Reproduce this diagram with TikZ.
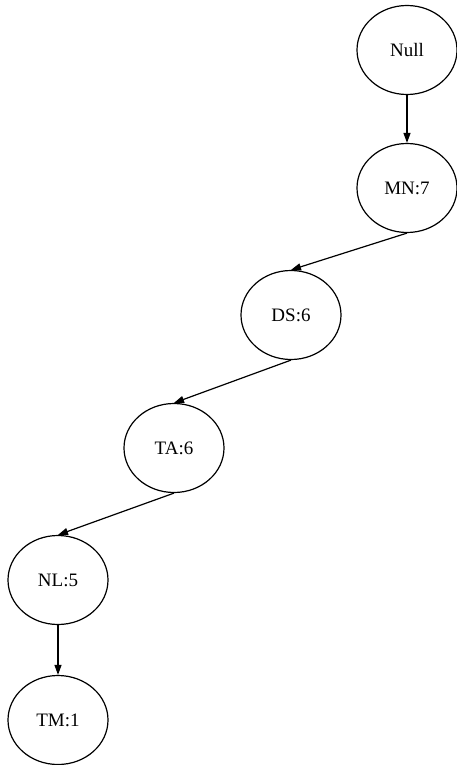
\documentclass[tikz,border=0pt]{standalone}
\usepackage{fontspec}
\setmainfont{Liberation Serif}
\usetikzlibrary{shapes.geometric,arrows.meta}

\begin{document}
\begin{tikzpicture}[x=1pt, y=-1pt,
    no/.style={
        ellipse, minimum width=100pt, minimum height=89pt, inner sep=0pt,
        draw, line width=1.2pt,
        font=\fontsize{19}{22}\selectfont
    },
    seta/.style={-{Triangle[length=10pt,width=7pt]}, line width=1.2pt}]
    \useasboundingbox (0,0) rectangle (457,765);

    \node [no] (null) at (407, 50) {Null};
    \node [no] (mn)   at (407,188) {MN:7};
    \node [no] (ds)   at (291,315) {DS:6};
    \node [no] (ta)   at (174,448) {TA:6};
    \node [no] (nl)   at (58, 580) {NL:5};
    \node [no] (tm)   at (58, 720) {TM:1};

    \draw [seta] (null.south) -- (mn.north);
    \draw [seta] (mn.south) -- (ds.north);
    \draw [seta] (ds.south) -- (ta.north);
    \draw [seta] (ta.south) -- (nl.north);
    \draw [seta] (nl.south) -- (tm.north);
\end{tikzpicture}
\end{document}
